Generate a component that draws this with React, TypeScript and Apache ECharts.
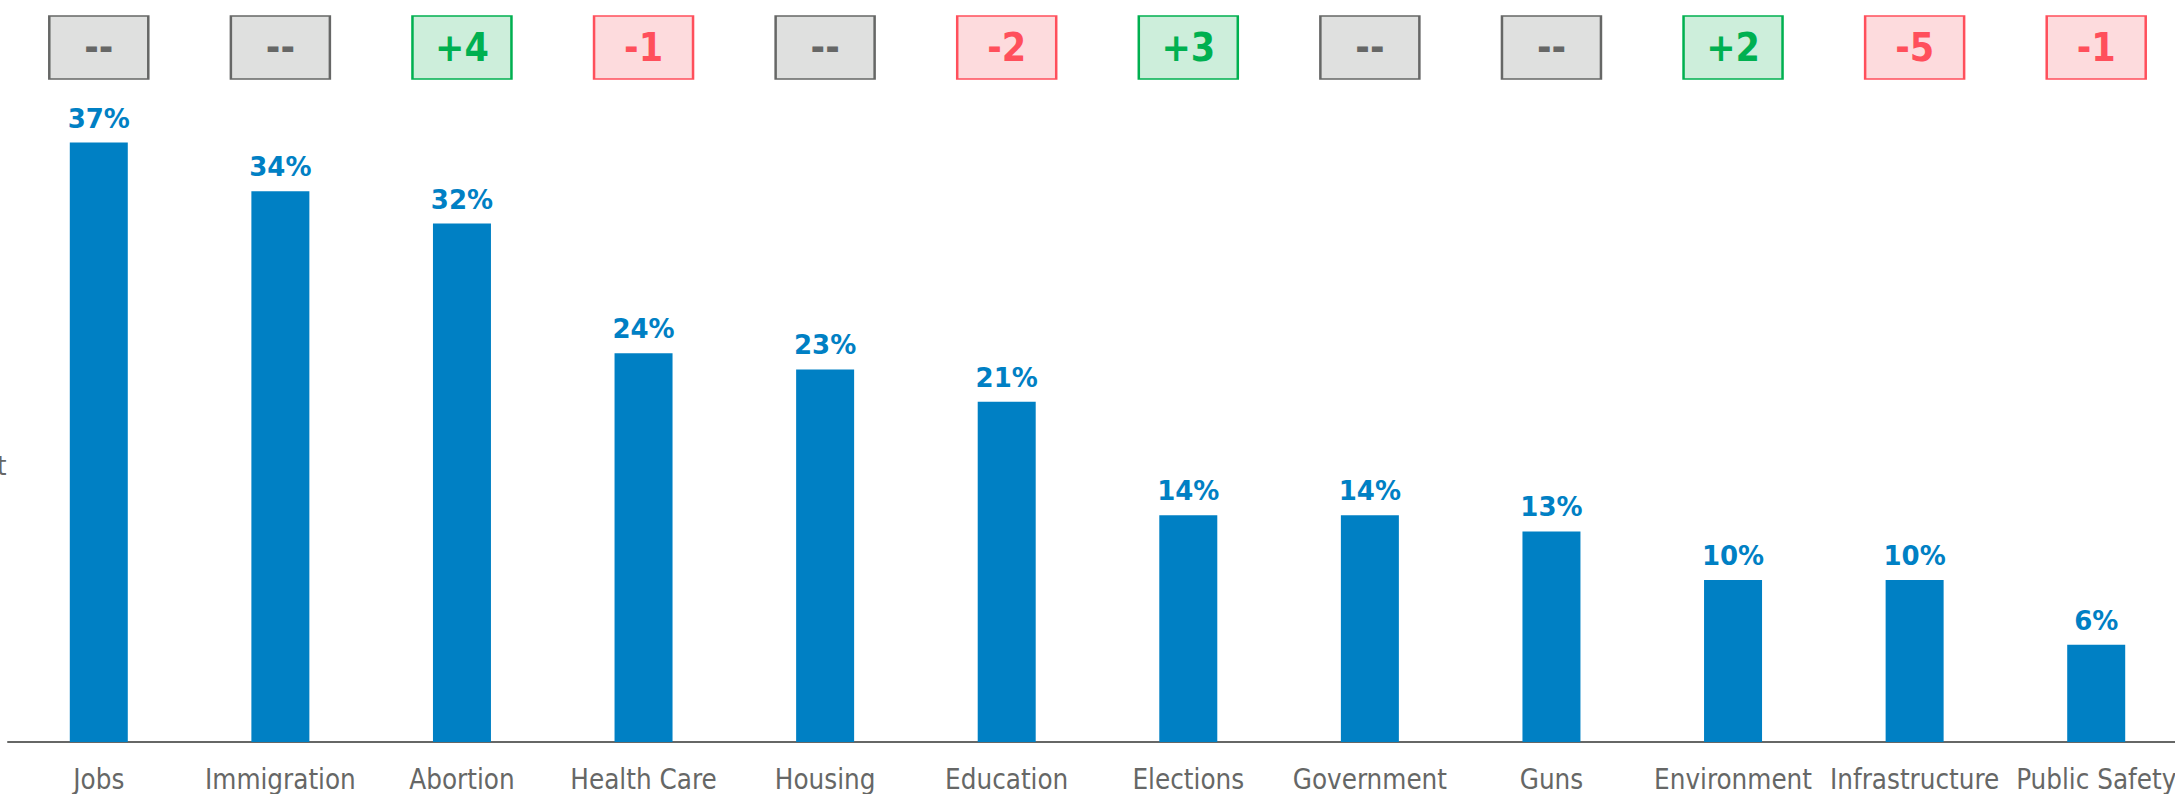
import React, { useEffect, useRef } from "react";
import * as echarts from "echarts";

const categories = [
  "Jobs", "Immigration", "Abortion", "Health Care", "Housing", "Education",
  "Elections", "Government", "Guns", "Environment", "Infrastructure", "Public Safety",
];
const shares = [37, 34, 32, 24, 23, 21, 14, 14, 13, 10, 10, 6];
const changes: (number | null)[] = [null, null, 4, -1, null, -2, 3, null, null, 2, -5, -1];
const yAxisName = "Percent";

const BLUE = "#0080C4";
const COND = "'DejaVu Sans Condensed', 'DejaVu Sans', sans-serif";

function boxStyle(c: number | null) {
  if (c === null) return { fill: "#DFE0DF", border: "#666766", text: "#666766" };
  if (c > 0) return { fill: "#CDEEDB", border: "#00B050", text: "#00B050" };
  return { fill: "#FDDBDD", border: "#FF4F5B", text: "#FF4F5B" };
}
function fmtChange(c: number | null) {
  if (c === null) return "--";
  return c > 0 ? "+" + c : String(c);
}

export default function App() {
  const ref = useRef<HTMLDivElement>(null);
  useEffect(() => {
    if (!ref.current) return;
    const chart = echarts.init(ref.current, null, { renderer: "svg" });
    const gridLeft = 8;
    const gridWidth = 2179;
    chart.setOption({
      animation: false,
      backgroundColor: "#FFFFFF",
      grid: [
        {
          left: gridLeft, width: gridWidth, top: 94, bottom: 52,
          containLabel: false, outerBoundsMode: "none",
        },
        {
          left: gridLeft, width: gridWidth, top: 15, height: 65,
          containLabel: false, outerBoundsMode: "none",
        },
      ],
      xAxis: [
        {
          type: "category",
          gridIndex: 0,
          data: categories,
          axisLine: { lineStyle: { color: "#666766", width: 2 } },
          axisTick: { show: false },
          axisLabel: {
            color: "#666766",
            fontFamily: COND,
            fontSize: 27.5,
            margin: 23,
            interval: 0,
            hideOverlap: false,
          },
        },
        {
          type: "category",
          gridIndex: 1,
          data: categories,
          show: false,
        },
      ],
      yAxis: [
        { type: "value", gridIndex: 0, min: 0, max: 40, show: false },
        { type: "value", gridIndex: 1, min: 0, max: 1, show: false },
      ],
      graphic: [
        {
          type: "text",
          x: 6.5,
          y: 465,
          style: {
            text: yAxisName,
            fill: "#666766",
            font: `27px ${COND}`,
            textAlign: "right",
            textVerticalAlign: "middle",
          },
        },
      ],
      series: [
        {
          type: "bar",
          xAxisIndex: 0,
          yAxisIndex: 0,
          data: shares,
          barWidth: 58,
          itemStyle: { color: BLUE },
          label: {
            show: true,
            position: "top",
            distance: 11,
            formatter: "{c}%",
            color: BLUE,
            fontFamily: "'DejaVu Sans', sans-serif",
            fontWeight: "bold",
            fontSize: 26,
          },
        },
        {
          type: "scatter",
          xAxisIndex: 1,
          yAxisIndex: 1,
          clip: false,
          symbol: "rect",
          symbolSize: [99, 63],
          data: changes.map((c) => {
            const s = boxStyle(c);
            return {
              value: 0.5,
              itemStyle: {
                color: s.fill, borderColor: s.border, borderWidth: 2, opacity: 1,
              },
              label: {
                show: true,
                position: "inside",
                formatter: fmtChange(c),
                color: s.text,
                fontFamily: COND,
                fontWeight: "bold",
                fontSize: 39,
              },
            };
          }),
        },
      ],
    });
    return () => chart.dispose();
  }, []);
  return (
    <div
      ref={ref}
      style={{ position: "absolute", left: 0, top: 0, width: 2175, height: 794 }}
    />
  );
}
